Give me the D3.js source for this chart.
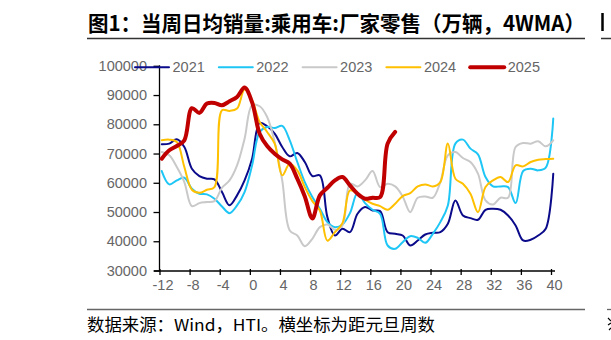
<!DOCTYPE html>
<html><head><meta charset="utf-8">
<script src="https://cdn.jsdelivr.net/npm/d3@7/dist/d3.min.js"></script>
<style>html,body{margin:0;padding:0;background:#fff;overflow:hidden}</style>
</head><body><svg id="c" width="611" height="340" xmlns="http://www.w3.org/2000/svg"></svg>
<script>
// ---- data ----
const weeks = [-11.7,-10.7,-9.7,-8.7,-7.7,-6.7,-5.7,-4.7,-3.7,-2.7,-1.7,-0.7,0.3,1.3,2.3,3.3,4.3,5.3,6.3,7.3,8.3,9.3,10.3,11.3,12.3,13.3,14.3,15.3,16.3,17.3,18.3,19.3,20.3,21.3,22.3,23.3,24.3,25.3,26.3,27.3,28.3,29.3,30.3,31.3,32.3,33.3,34.3,35.3,36.3,37.3,38.3,39.3,40.3];
const seriesNames = ["2021","2022","2023","2024","2025"];
const s2021 = [73150,73380,74860,72235,64810,62300,61390,61160,56820,52300,55680,60800,68240,80460,79320,76800,72235,69040,70180,67100,62300,62530,48250,41970,44260,43110,49400,51680,50540,50310,43110,42540,41970,38550,40260,42310,42880,43110,45970,53960,48830,47910,47340,50770,51110,50770,48830,45400,40260,40490,41970,44260,63100];
const s2022 = [64010,59450,60815,61730,57960,56250,56020,54540,51910,49620,52250,56820,65950,77370,79090,78740,79430,74520,67100,60240,55110,51110,46540,44830,45740,49620,56500,53050,50770,49400,38550,37400,39690,41740,41170,39460,42540,46540,52250,73400,74750,71670,69720,61960,58760,58760,58530,53050,64010,64810,64240,65150,82000];
const s2023 = [70520,69380,65380,60240,52000,53050,53390,53740,58300,60815,65950,75090,86500,86170,82510,73950,60815,43680,42000,38300,40830,44830,45740,43910,45400,59670,58760,60815,64010,58530,59670,58760,55330,49960,54880,55330,54880,60240,69380,70520,68460,67100,63100,53960,52590,54880,54880,72230,73600,73380,74180,72460,74520];
const s2024 = [74520,74750,73950,65380,57620,56590,57620,58530,84800,84570,85370,91880,88220,80800,77370,73380,62530,66530,64240,58530,53740,50540,40200,43110,46190,57390,56250,54190,52820,52020,50770,52820,55450,56480,58760,59450,58760,60240,73400,61390,59670,56250,49960,58530,60815,61960,60240,65950,65610,67100,67900,68120,68240];
const s2025 = [68240,71100,72580,74520,85500,83900,87080,87310,86510,87880,89365,92560,87500,76800,72580,69950,68010,66525,61400,55330,47800,55680,58300,60815,61960,59100,56250,54540,54880,55100,73400,77400];
const yTicks = [30000,40000,50000,60000,70000,80000,90000,100000];
const xTicks = [-12,-8,-4,0,4,8,12,16,20,24,28,32,36,40];
const titleText = "图1：当周日均销量:乘用车:厂家零售（万辆，4WMA）";
const sourceText = "数据来源：Wind，HTI。横坐标为距元旦周数";

// ---- styles ----
const colors = ["#0A0A8A","#1EC6F5","#C9C9C9","#FFC000","#C00000"];
const widths = [2,2,2,2,4];
const series = [s2021,s2022,s2023,s2024,s2025];

const svg = d3.select("#c");
const x = d3.scaleLinear().domain([-12,40]).range([159.5,551]);
const y = d3.scaleLinear().domain([30000,100000]).range([270.5,65.8]);

// title
svg.append("text").attr("x",88).attr("y",31)
  .attr("font-family","'Noto Sans CJK SC'").attr("font-weight","bold")
  .attr("font-size",21).attr("fill","#000")
  .attr("textLength",497).attr("lengthAdjust","spacingAndGlyphs").text(titleText);
svg.append("line").attr("x1",87).attr("x2",585).attr("y1",38.5).attr("y2",38.5)
  .attr("stroke","#333").attr("stroke-width",1.5);
// edge of the neighbouring panel (clipped glyph strokes + rules)
svg.append("line").attr("x1",602.5).attr("x2",602.5).attr("y1",13).attr("y2",31)
  .attr("stroke","#000").attr("stroke-width",2.5);
svg.append("line").attr("x1",601).attr("x2",611).attr("y1",38.5).attr("y2",38.5)
  .attr("stroke","#333").attr("stroke-width",1.5);
svg.append("line").attr("x1",607).attr("x2",611).attr("y1",309.5).attr("y2",309.5)
  .attr("stroke","#666").attr("stroke-width",1.3);
svg.append("path").attr("d","M608,318 L611,321 M608,325 L611,323 M609,330 L611,328")
  .attr("stroke","#000").attr("stroke-width",1.2).attr("fill","none");

// footer
svg.append("line").attr("x1",87).attr("x2",585).attr("y1",309.5).attr("y2",309.5)
  .attr("stroke","#666").attr("stroke-width",1.3);
svg.append("text").attr("x",87).attr("y",331).attr("font-family","'Noto Sans CJK SC'")
  .attr("font-size",16.5).attr("fill","#000").attr("textLength",348).attr("lengthAdjust","spacingAndGlyphs")
  .text(sourceText);

// y axis
const yAxis = svg.append("g").attr("transform","translate(159.5,0)")
  .call(d3.axisLeft(y).tickValues(yTicks).tickSize(6).tickSizeOuter(0).tickPadding(6.5).tickFormat(d3.format("d")));
yAxis.select(".domain").remove();
yAxis.append("line").attr("x1",0).attr("x2",0).attr("y1",y(100000)-0.5).attr("y2",271.5).attr("stroke","#000").attr("stroke-width",1.3);
yAxis.selectAll(".tick line").attr("stroke","#000").attr("stroke-width",1.3);
yAxis.selectAll(".tick text").attr("font-family","'Liberation Sans', Arial, sans-serif")
  .attr("font-size",14.5).attr("fill","#666");

// x axis
const xAxis = svg.append("g").attr("transform","translate(0,271)")
  .call(d3.axisBottom(x).tickValues(xTicks).tickSize(4).tickSizeOuter(0).tickPadding(5).tickFormat(d3.format("d")));
xAxis.select(".domain").remove();
xAxis.append("line").attr("x1",154).attr("x2",555).attr("y1",0).attr("y2",0).attr("stroke","#000").attr("stroke-width",1.3);
xAxis.selectAll(".tick line").attr("y1",-2).attr("y2",4).attr("stroke","#000").attr("stroke-width",1.3);
xAxis.selectAll(".tick text").attr("font-family","'Liberation Sans', Arial, sans-serif")
  .attr("font-size",14.5).attr("fill","#666").attr("dx",3);
xAxis.selectAll(".tick text").text(d => d < 0 ? "-" + Math.abs(d) : d);

// lines
const line = d3.line().x((d,i) => x(weeks[i])).y(d => y(d)).curve(d3.curveCatmullRom.alpha(0.5));
series.forEach((s,k) => {
  svg.append("path").datum(s).attr("d",line).attr("fill","none")
    .attr("stroke",colors[k]).attr("stroke-width",widths[k])
    .attr("stroke-linejoin","round").attr("stroke-linecap","round");
});

// legend
const leg = svg.append("g");
seriesNames.forEach((n,k) => {
  const lx = 135 + k*83.8;
  leg.append("line").attr("x1",lx).attr("x2",lx+34).attr("y1",67.3).attr("y2",67.3)
    .attr("stroke",colors[k]).attr("stroke-width",widths[k]).attr("stroke-linecap","round");
  leg.append("text").attr("x",lx+37.5).attr("y",67.3).attr("dy","0.35em")
    .attr("font-family","'Liberation Sans', Arial, sans-serif").attr("font-size",14.5)
    .attr("fill","#666").text(n);
});
</script></body></html>
